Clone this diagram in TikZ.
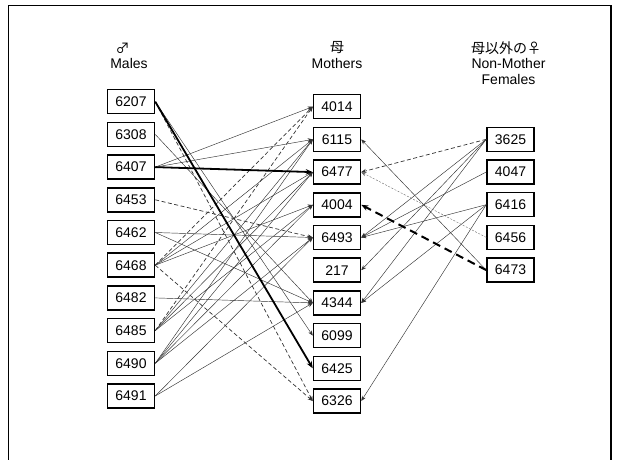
\documentclass[tikz,border=0pt]{standalone}
\usepackage{fontspec}
\setmainfont{Liberation Sans}
\newfontfamily\cjk{Noto Sans CJK JP}
\usetikzlibrary{arrows.meta}

\tikzset{
  idbox/.style={draw, line width=1.5pt, minimum width=47pt, minimum height=24pt,
    inner sep=0pt, font=\fontsize{14}{16}\selectfont},
  head/.style={font=\fontsize{14}{16}\selectfont, align=center},
  link/.style={-{Stealth[length=5pt,width=4pt]}, line width=0.45pt, black!80},
  boldlink/.style={-{Stealth[length=7pt,width=5.5pt]}, line width=1.8pt},
  dashlink/.style={link, dash pattern=on 4pt off 2.5pt, line width=0.7pt},
  boldnash/.style={boldlink, dash pattern=on 8pt off 5pt, line width=2pt},
  finelink/.style={link, dash pattern=on 2pt off 1.5pt, line width=0.4pt, black!60}
}

\begin{document}
\begin{tikzpicture}[x=1pt, y=-1pt]
            \useasboundingbox (0,0) rectangle (618,459);
            % Rahmen
            \draw[line width=1.5pt] (8.5,5.5) rectangle (611,480);

            % Spaltenkoepfe
            \node[head] (hmale) at (122.5,48) {{\cjk ♂}};
            \node[head] (lmale) at (129,63) {Males};
            \node[head] (hmother) at (337,48) {{\cjk 母}};
            \node[head] (lmother) at (337,63) {Mothers};
            \node[head] (hother) at (506,48) {{\cjk 母以外の♀}};
            \node[head] (lother) at (508.5,71.5) {Non-Mother\\Females};

            % Maennchen
            \foreach \id [count=\i] in {6207,6308,6407,6453,6462,6468,6482,6485,6490,6491} {
                \node[idbox] (m\id) at (131,{101.7+32.7*(\i-1)}) {\id};
            }

            % Muetter
            \foreach \id [count=\i] in {4014,6115,6477,4004,6493,217,4344,6099,6425,6326} {
                \node[idbox] (f\id) at (337,{106.7+32.7*(\i-1)}) {\id};
            }

            % Weibchen ohne Nachwuchs
            \foreach \id [count=\i] in {3625,4047,6416,6456,6473} {
                \node[idbox] (n\id) at (510.5,{139.3+32.7*(\i-1)}) {\id};
            }

            % Maennchen -> Muetter
            \foreach \a/\b in {6207/6099, 6308/4344, 6407/4014, 6407/6115,
                               6462/6493, 6462/4344, 6468/6115, 6468/6477, 6468/4004,
                               6482/4344, 6485/6115, 6485/6477, 6485/4004,
                               6490/6115, 6490/6477, 6490/4004, 6490/6493,
                               6491/6493, 6491/4344} {
                \draw[link] (m\a.east) -- (f\b.west);
            }
            \foreach \a/\b in {6207/6326, 6453/6493, 6468/4014, 6468/6326, 6485/4014} {
                \draw[dashlink] (m\a.east) -- (f\b.west);
            }
            \draw[boldlink] (m6207.east) -- (f6425.west);
            \draw[boldlink] (m6407.east) -- (f6477.west);

            % Weibchen -> Muetter
            \foreach \a/\b in {6473/6115, 3625/6493, 4047/6493, 6416/6493,
                               3625/217, 3625/4344, 6416/4344, 6416/6326} {
                \draw[link] (n\a.west) -- (f\b.east);
            }
            \draw[dashlink] (n3625.west) -- (f6477.east);
            \draw[finelink] (n6456.west) -- (f6477.east);
            \draw[boldnash] (n6473.west) -- (f4004.east);
        \end{tikzpicture}
\end{document}
